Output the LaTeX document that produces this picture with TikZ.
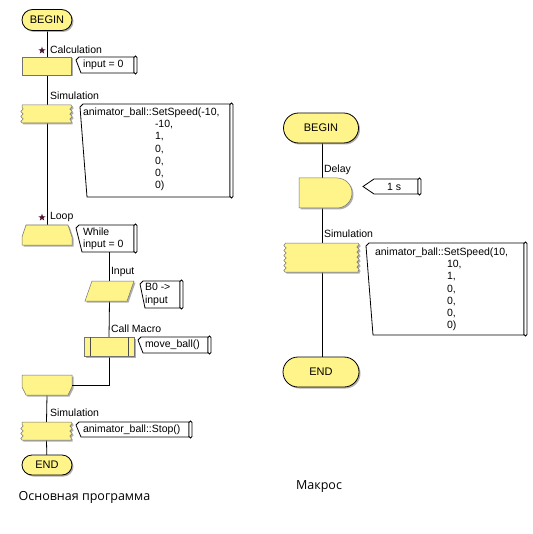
\documentclass[tikz,border=0pt]{standalone}
\usepackage{fontspec}
\setmainfont{Liberation Sans}
\newfontfamily\capfont{Open Sans}
\usetikzlibrary{shapes.misc,shapes.geometric,shadows,calc,decorations.pathmorphing}
\definecolor{blk}{RGB}{255,244,138}
\definecolor{shd}{RGB}{140,140,140}
\definecolor{starc}{RGB}{80,25,55}
\tikzset{
  every node/.style={font=\fontsize{10.5}{12.3}\selectfont, inner sep=0pt, outer sep=0pt},
  shad/.style={drop shadow={shadow xshift=1.5pt, shadow yshift=-1.5pt, fill=shd, opacity=0.7}},
  term/.style={rounded rectangle, draw=black, line width=0.8pt, fill=blk, shad, font=\fontsize{11}{13}\selectfont},
  box/.style={rectangle, inner sep=0pt, outer sep=0pt},
  blockfill/.style={fill=blk, draw=black!55, line width=0.5pt, shad},
  conn/.style={draw=black, line width=0.8pt},
  cmtline/.style={draw=black, line width=0.8pt, fill=white},
  lab/.style={anchor=west},
  txt/.style={anchor=north west, align=left},
  wavy/.style={decoration={snake, segment length=5pt, amplitude=1.2pt}},
  starmark/.style={star, star points=5, star point ratio=2.4, fill=starc, minimum size=7.5pt},
}
\newcommand\cmtoutline[2]{%
  \path[cmtline] ($(#1.north west)+(3,0)$) -- ($(#1.north west)+(0,3)$) -- ($(#1.south west)+(#2,0)$) -- (#1.south east) -- (#1.north east) -- cycle;
  \path[cmtline, rounded corners=1.5pt] ($(#1.north east)+(0,-1)$) rectangle ($(#1.south east)+(3,1)$);
}
\newcommand\simshape[1]{%
  \path[blockfill, wavy] (#1.north west) -- (#1.north east) decorate{-- (#1.south east)} -- (#1.south west) decorate{-- (#1.north west)} -- cycle;
}
\begin{document}
\begin{tikzpicture}[x=1pt, y=-1pt]
\fill[white] (0,0) rectangle (532,534);
\useasboundingbox (0,0) rectangle (532,534);

% ---------- left: main program ----------
\node[box, minimum width=50pt, minimum height=20pt] (ls) at (47,235) {};
\node[box, minimum width=50pt, minimum height=20pt] (le) at (47,385) {};
\node[box, minimum width=49pt, minimum height=18pt] (sim1) at (46.5,114) {};
\node[box, minimum width=49pt, minimum height=18pt] (sim2) at (46.5,431) {};
\node[box, minimum width=49pt, minimum height=20pt] (inp) at (109.5,291) {};
\node[box, minimum width=50pt, minimum height=19pt] (cm) at (109,346.5) {};

% connectors
\draw[conn] (47,20) -- (47,66);
\draw[conn] (47,66) -- (47,114);
\draw[conn] (47,114) -- (ls.north);
\draw[conn] (le.south) -- (sim2.north);
\draw[conn] (sim2.south) -- (47,465);

\node[term, minimum width=50pt, minimum height=21pt] (b1) at (47,20) {BEGIN};
\node[box, blockfill, minimum width=49pt, minimum height=18pt] (calc) at (46.5,66) {};
\simshape{sim1}
\path[blockfill] ($(ls.north west)+(4,0)$) -- ($(ls.north east)+(-4,0)$) -- ($(ls.north east)+(0,12)$) -- (ls.south east) -- (ls.south west) -- ($(ls.north west)+(0,12)$) -- cycle;
\path[blockfill] (le.north west) -- (le.north east) -- ($(le.north east)+(0,12)$) -- ($(le.south east)+(-4,0)$) -- ($(le.south west)+(4,0)$) -- ($(le.north west)+(0,12)$) -- cycle;
\simshape{sim2}
\node[term, minimum width=50pt, minimum height=20pt] (e1) at (47,465) {END};

% comments left
\node[box, minimum width=58pt, minimum height=16pt] (c1) at (105,65) {};
\node[box, minimum width=150pt, minimum height=93pt] (c2) at (155,150.5) {};
\node[box, minimum width=58pt, minimum height=27pt] (c3) at (105,238.5) {};
\node[box, minimum width=40pt, minimum height=27pt] (c4) at (160,294.5) {};
\node[box, minimum width=70pt, minimum height=16pt] (c5) at (173,345) {};
\node[box, minimum width=113pt, minimum height=15pt] (c6) at (132.5,429.5) {};
\cmtoutline{c1}{5}
\cmtoutline{c2}{7}
\cmtoutline{c3}{6}
\cmtoutline{c4}{5}
\cmtoutline{c5}{5}
\cmtoutline{c6}{5}

% loop body
\draw[conn] (inp.north |- c3.south) -- (inp.north);
\draw[conn] (inp.south) -- (cm.north);
\draw[conn] (cm.south) |- (le.east);
\path[blockfill] ($(inp.north west)+(7,0)$) -- (inp.north east) -- ($(inp.south east)+(-7,0)$) -- (inp.south west) -- cycle;
\node[box, blockfill, minimum width=50pt, minimum height=19pt] (cmb) at (109,346.5) {};
\draw[black!70, line width=0.6pt] ($(cmb.north west)+(6,0)$) -- ($(cmb.south west)+(6,0)$);
\draw[black!70, line width=0.6pt] ($(cmb.north east)+(-6,0)$) -- ($(cmb.south east)+(-6,0)$);

% labels left
\node[starmark] (st1) at (42,50.5) {};
\node[lab] (l1) at (50,50) {Calculation};
\node[lab] (l2) at (50,96) {Simulation};
\node[starmark] (st2) at (42,217.5) {};
\node[lab] (l3) at (50,217) {Loop};
\node[lab] (l4) at (111,272) {Input};
\node[lab] (l5) at (111,329) {Call Macro};
\node[lab] (l6) at (50,413) {Simulation};

% comment texts left
\node[lab] (t1) at (83,65) {input = 0};
\node[txt] (t2) at (83,107.5) {animator\_ball::SetSpeed(-10,\\
\hspace*{72pt}-10,\\ \hspace*{72pt}1,\\ \hspace*{72pt}0,\\ \hspace*{72pt}0,\\ \hspace*{72pt}0,\\ \hspace*{72pt}0)};
\node[txt] (t3) at (83,227.5) {While\\input = 0};
\node[txt] (t4) at (145,283.5) {B0 ->\\input};
\node[lab] (t5) at (145,345) {move\_ball()};
\node[lab] (t6) at (83,429.5) {animator\_ball::Stop()};

% ---------- right: macro ----------
\node[box, minimum width=53pt, minimum height=30pt] (dl) at (325.5,193) {};
\node[box, minimum width=73pt, minimum height=29pt] (sim3) at (321.5,257.5) {};
\draw[conn] (322,128) -- (322,193);
\draw[conn] (322,193) -- (322,257);
\draw[conn] (322,257) -- (322,372);
\node[term, minimum width=75pt, minimum height=30pt] (b2) at (321,128) {BEGIN};
\path[blockfill] (dl.north west) -- ($(dl.north east)+(-15,0)$) .. controls ($(dl.north east)+(-6.7,0)$) and ($(dl.east)+(0,-8.3)$) .. (dl.east) .. controls ($(dl.east)+(0,8.3)$) and ($(dl.south east)+(-6.7,0)$) .. ($(dl.south east)+(-15,0)$) -- (dl.south west) -- cycle;
\simshape{sim3}
\node[term, minimum width=76pt, minimum height=30pt] (e2) at (321,372) {END};

\node[box, minimum width=44pt, minimum height=15pt] (c7) at (396,186.5) {};
\path[cmtline] (c7.north west) -- (c7.north east) -- (c7.south east) -- (c7.south west) -- ($(c7.west)+(-11,0)$) -- cycle;
\path[cmtline, rounded corners=1.5pt] ($(c7.north east)+(0,-1)$) rectangle ($(c7.south east)+(3,1)$);
\node[box, minimum width=158pt, minimum height=92pt] (c8) at (445,289) {};
\cmtoutline{c8}{7}

\node[lab] (l7) at (324,170) {Delay};
\node[lab] (l8) at (324,234) {Simulation};
\node (t7) at (394,186.5) {1 s};
\node[txt] (t8) at (375,247.5) {animator\_ball::SetSpeed(10,\\
\hspace*{72pt}10,\\ \hspace*{72pt}1,\\ \hspace*{72pt}0,\\ \hspace*{72pt}0,\\ \hspace*{72pt}0,\\ \hspace*{72pt}0)};

% captions
\node[font=\capfont\fontsize{12.5}{14}\selectfont] (cap1) at (84.5,497) {Основная программа};
\node[font=\capfont\fontsize{12.5}{14}\selectfont] (cap2) at (319,487) {Макрос};
\end{tikzpicture}
\end{document}
